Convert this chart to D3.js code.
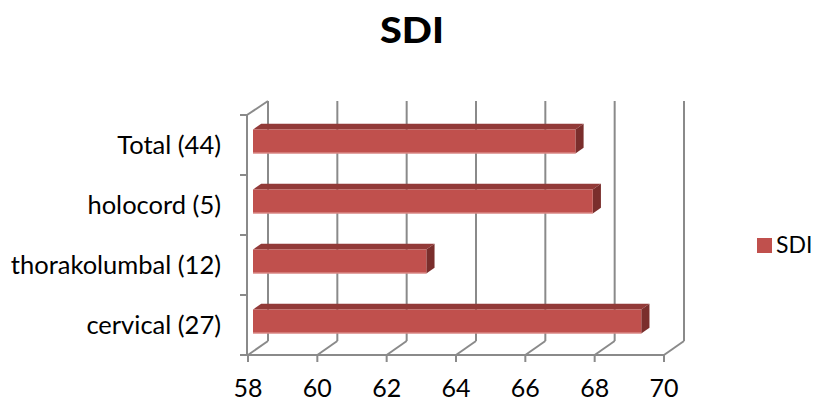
<!DOCTYPE html>
<html>
<head>
<meta charset="utf-8">
<script src="https://cdn.jsdelivr.net/npm/d3@7"></script>
<style>
  html, body { margin: 0; padding: 0; background: #fff; }
  svg { display: block; font-family: Lato, "Open Sans", sans-serif; }
</style>
</head>
<body>
<svg id="chart" width="813" height="403"></svg>
<script>
// Chart data
const categories = ["Total (44)", "holocord (5)", "thorakolumbal (12)", "cervical (27)"];
const sdiValues = [67.3, 67.8, 63.0, 69.2];
const tickValues = [58, 60, 62, 64, 66, 68, 70];
const seriesName = "SDI";
const chartTitle = "SDI";

const svg = d3.select("#chart");

// Front plane scales; depth is drawn as an oblique offset
const x = d3.scaleLinear().domain([58, 70]).range([248, 664]);
const y = d3.scaleBand().domain(categories).range([115, 355])
  .paddingInner(0.6).paddingOuter(0.3);
const depth = { dx: 20, dy: -14 };
const barDepth0 = 0.25, barDepth1 = 0.66;

const gridColor = "#8a8a8a";
const yTop = 115, yBottom = 355;

// Back wall gridlines
const grid = svg.append("g").attr("stroke", gridColor).attr("stroke-width", 2).attr("fill", "none");
tickValues.forEach(v => {
  grid.append("line")
    .attr("x1", x(v) + depth.dx).attr("x2", x(v) + depth.dx)
    .attr("y1", yTop + depth.dy).attr("y2", yBottom + depth.dy);
  // floor lines running to the back wall
  grid.append("line")
    .attr("x1", x(v)).attr("y1", yBottom)
    .attr("x2", x(v) + depth.dx).attr("y2", yBottom + depth.dy);
});
// Left wall top edge
grid.append("line")
  .attr("x1", x(58) - 1).attr("y1", yTop)
  .attr("x2", x(58) + depth.dx).attr("y2", yTop + depth.dy);

// Category axis (front left edge) with ticks at band boundaries
grid.append("line")
  .attr("x1", x(58) - 1).attr("x2", x(58) - 1)
  .attr("y1", yTop).attr("y2", yBottom + 1);
const step = y.step();
d3.range(categories.length + 1).forEach(i => {
  const yy = yTop + i * step;
  grid.append("line").attr("x1", x(58) - 8).attr("x2", x(58) - 1)
    .attr("y1", yy).attr("y2", yy);
});

// Value axis (front floor edge) with ticks
grid.append("line")
  .attr("x1", x(58) - 2).attr("x2", x(70) + 1)
  .attr("y1", yBottom).attr("y2", yBottom);
tickValues.forEach(v => {
  grid.append("line").attr("x1", x(v)).attr("x2", x(v))
    .attr("y1", yBottom).attr("y2", yBottom + 7);
});

// Value tick labels
svg.append("g").selectAll("text").data(tickValues).join("text")
  .attr("x", d => x(d)).attr("y", 397)
  .attr("text-anchor", "middle")
  .attr("font-size", 25).attr("fill", "#000")
  .text(d => d);

// Category labels
svg.append("g").selectAll("text").data(categories).join("text")
  .attr("x", 221).attr("y", d => y(d) + y.bandwidth() / 2 + 9)
  .attr("text-anchor", "end")
  .attr("font-size", 25.5).attr("fill", "#000")
  .text(d => d);

// 3D bars: top face, right side face, front face
const bars = svg.append("g");
const ox0 = depth.dx * barDepth0, oy0 = depth.dy * barDepth0;
const ox1 = depth.dx * barDepth1, oy1 = depth.dy * barDepth1;
categories.forEach((c, i) => {
  const v = sdiValues[i];
  const xl = x(58) + ox0, xr = x(v) + ox0;
  const yt = y(c) + oy0, yb = y(c) + y.bandwidth() + oy0;
  const ddx = ox1 - ox0, ddy = oy1 - oy0;
  const g = bars.append("g");
  // top face
  g.append("path")
    .attr("d", `M${xl},${yt} L${xl + ddx},${yt + ddy} L${xr + ddx},${yt + ddy} L${xr},${yt} Z`)
    .attr("fill", "#923a38");
  // side face
  g.append("path")
    .attr("d", `M${xr},${yt} L${xr + ddx},${yt + ddy} L${xr + ddx},${yb + ddy} L${xr},${yb} Z`)
    .attr("fill", "#7a2e2c");
  // front face
  g.append("rect")
    .attr("x", xl).attr("y", yt)
    .attr("width", xr - xl).attr("height", yb - yt)
    .attr("fill", "#c0504d");
  // soft lower edge highlight
  g.append("line")
    .attr("x1", xl).attr("x2", xr).attr("y1", yb - 0.5).attr("y2", yb - 0.5)
    .attr("stroke", "#e7a3a1").attr("stroke-width", 1);
});

// Title
svg.append("text")
  .attr("x", 412).attr("y", 43)
  .attr("text-anchor", "middle")
  .attr("font-size", 36).attr("font-weight", 900).attr("fill", "#000")
  .attr("textLength", 64).attr("lengthAdjust", "spacingAndGlyphs")
  .text(chartTitle);

// Legend
const legend = svg.append("g");
legend.append("rect").attr("x", 757).attr("y", 238).attr("width", 15).attr("height", 15)
  .attr("fill", "#c0504d");
legend.append("text").attr("x", 776).attr("y", 253)
  .attr("font-size", 23).attr("fill", "#000").text(seriesName);
</script>
</body>
</html>
